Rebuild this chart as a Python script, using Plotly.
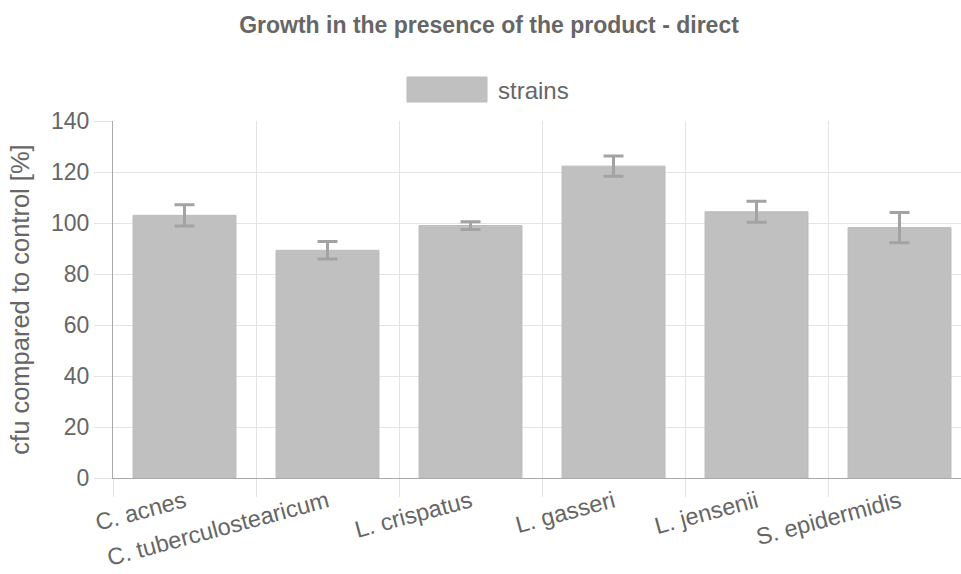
import plotly.graph_objects as go

categories = ["C. acnes", "C. tuberculostearicum", "L. crispatus", "L. gasseri", "L. jensenii", "S. epidermidis"]
values = [103.0, 89.3, 99.0, 122.3, 104.4, 98.2]
errors = [4.2, 3.4, 1.5, 4.0, 4.1, 5.9]
series_name = "strains"
title_text = "Growth in the presence of the product - direct"
y_title = "cfu compared to control [%]"
y_ticks = [0, 20, 40, 60, 80, 100, 120, 140]

FONT = "Liberation Sans, Arial, Helvetica, sans-serif"
TXT = "#666666"
BAR = "#c0c0c0"
GRID = "#e3e3e3"

W, H = 961, 574
L, R, T, B = 113, 0, 121, 96
pw, ph = W - L - R, H - T - B

def px_x(p):
    return (p - L) / pw

def px_y(p):
    return (H - B - p) / ph

fig = go.Figure()
fig.add_trace(go.Bar(
    x=categories, y=values, name=series_name, width=0.72,
    marker=dict(color=BAR, line=dict(color="#bcbcbc", width=1)),
    error_y=dict(type="data", array=errors, visible=True, color="#a3a3a3", thickness=3, width=10),
    showlegend=False,
))

fig.update_layout(
    width=W, height=H,
    margin=dict(l=L, r=R, t=T, b=B, pad=0),
    paper_bgcolor="white", plot_bgcolor="white",
    font=dict(family=FONT, color=TXT, size=23),
    title=dict(text="<b>" + title_text + "</b>", x=489 / W, xref="container", xanchor="center",
               y=1 - 25 / H, yref="container", yanchor="middle",
               font=dict(size=23, color=TXT, family=FONT)),
    xaxis=dict(
        type="category", range=[-0.5, 5.43], tickson="boundaries",
        showgrid=True, gridcolor=GRID, gridwidth=1,
        ticks="outside", ticklen=18, tickcolor=GRID, tickwidth=1,
        tickangle=-15, tickfont=dict(size=23.5, color=TXT),
        showline=True, linecolor="#aaaaaa", linewidth=1,
        zeroline=False,
    ),
    yaxis=dict(
        range=[0, 140], tickvals=y_ticks, showgrid=True, gridcolor=GRID, gridwidth=1,
        ticks="outside", ticklen=18, tickcolor=GRID, tickwidth=1,
        tickfont=dict(size=23, color=TXT),
        showline=True, linecolor="#aaaaaa", linewidth=1,
        zeroline=True, zerolinecolor="#aaaaaa", zerolinewidth=1,
        title=dict(text=y_title, font=dict(size=25.5, color=TXT), standoff=14),
    ),
)

# legend drawn as box + label
fig.add_shape(type="rect", xref="paper", yref="paper",
              x0=px_x(407), x1=px_x(487), y0=px_y(102), y1=px_y(77),
              fillcolor=BAR, line=dict(color="#bcbcbc", width=1))
fig.add_annotation(text=series_name, xref="paper", yref="paper",
                   x=px_x(496), y=px_y(90), xanchor="left", yanchor="middle",
                   showarrow=False, font=dict(size=24, color=TXT, family=FONT))

fig.write_html("out.html")
